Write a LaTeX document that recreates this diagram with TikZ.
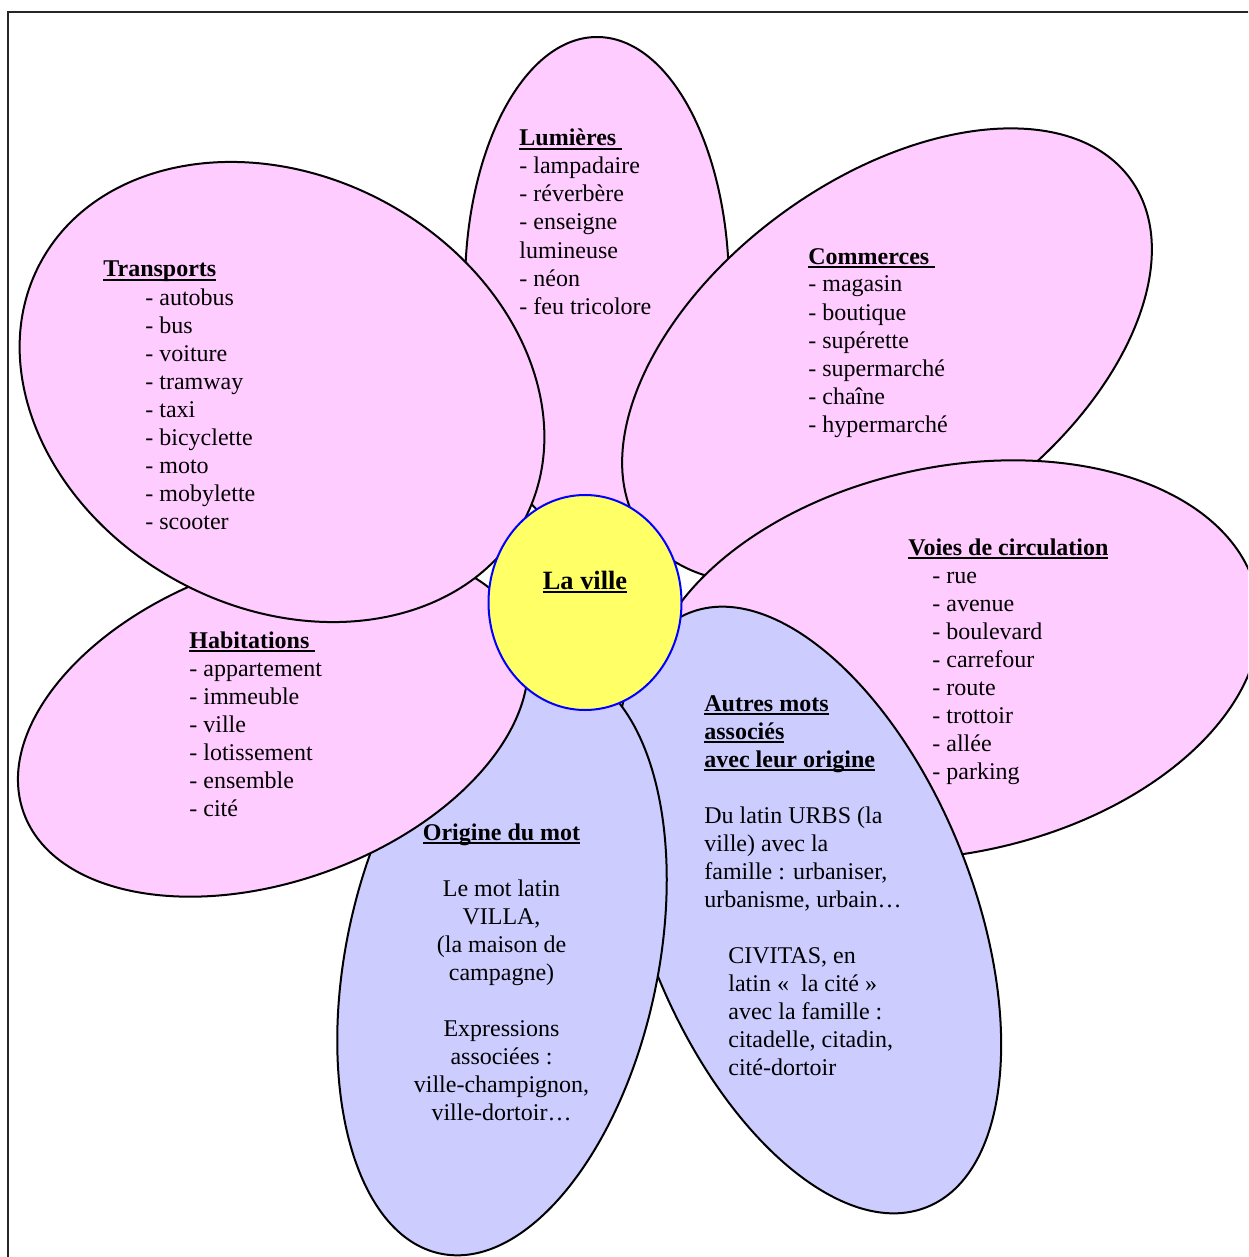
\documentclass[tikz,border=0pt]{standalone}
\usepackage{fontspec}
\setmainfont{Liberation Serif}

\definecolor{rose}{HTML}{FFCCFF}
\definecolor{lavande}{HTML}{CCCCFF}
\definecolor{jaune}{HTML}{FFFF66}

\newsavebox{\boiteSoul}
\newcommand{\souligne}[1]{\sbox{\boiteSoul}{#1}\rlap{\rule[-0.15em]{\wd\boiteSoul}{0.08em}}\usebox{\boiteSoul}}

\tikzset{
  petale/.style={draw=black, line width=1pt, fill=#1},
  ligne/.style={anchor=base west, inner sep=0pt},
  centre/.style={anchor=base, inner sep=0pt},
  titre/.style={font=\fontsize{12}{14}\selectfont\bfseries},
}

\begin{document}
\begin{tikzpicture}[x=0.5pt,y=-0.5pt,font=\fontsize{12}{14}\selectfont]
\useasboundingbox (0,0) rectangle (1248,1257);
\clip (0,0) rectangle (1248,1257);
\draw[line width=0.8pt, black!85] (8,12) rectangle (1280,1290);
% petales, du dessous vers le dessus
\draw[petale=rose] (597,287) ellipse (132 and 250);
\draw[petale=rose, rotate around={36:(887,356)}] (887,356) ellipse (301 and 177);
\draw[petale=rose, rotate around={12:(952,660)}] (952,660) ellipse (312 and 193);
\draw[petale=lavande, rotate around={-68.2:(808,910)}] (808,910) ellipse (320 and 164);
\draw[petale=lavande, rotate around={78.1:(502,960)}] (502,960) ellipse (300 and 156);
\draw[petale=rose, rotate around={19.8:(273,723)}] (273,723) ellipse (265 and 158);
\draw[petale=rose, rotate around={-28:(282,392)}] (282,392) ellipse (274 and 216);
\draw[line width=1pt, blue, fill=jaune] (585,602.5) ellipse (96.5 and 107.5);
\node[centre, font=\fontsize{13.2}{16}\selectfont\bfseries] (ville) at (585,589) {\souligne{La ville}};
% Lumieres
\node[ligne, titre] (lumT) at (519,146) {\souligne{Lumières\ }};
\node[ligne] (lum1) at (519,174) {- lampadaire};
\node[ligne] (lum2) at (519,202) {- réverbère};
\node[ligne] (lum3) at (519,230) {- enseigne};
\node[ligne] (lum4) at (519,258) {lumineuse};
\node[ligne] (lum5) at (519,286) {- néon};
\node[ligne] (lum6) at (519,314) {- feu tricolore};
% Transports
\node[ligne, titre] (traT) at (103,277) {\souligne{Transports}};
\node[ligne] (tra1) at (145,305) {- autobus};
\node[ligne] (tra2) at (145,333) {- bus};
\node[ligne] (tra3) at (145,361) {- voiture};
\node[ligne] (tra4) at (145,389) {- tramway};
\node[ligne] (tra5) at (145,417) {- taxi};
\node[ligne] (tra6) at (145,445) {- bicyclette};
\node[ligne] (tra7) at (145,473) {- moto};
\node[ligne] (tra8) at (145,501) {- mobylette};
\node[ligne] (tra9) at (145,529) {- scooter};
% Commerces
\node[ligne, titre] (comT) at (808,264) {\souligne{Commerces\ }};
\node[ligne] (com1) at (808,292) {- magasin};
\node[ligne] (com2) at (808,320) {- boutique};
\node[ligne] (com3) at (808,348) {- supérette};
\node[ligne] (com4) at (808,376) {- supermarché};
\node[ligne] (com5) at (808,404) {- chaîne};
\node[ligne] (com6) at (808,432) {- hypermarché};
% Voies de circulation
\node[ligne, titre] (voiT) at (908,555) {\souligne{Voies de circulation}};
\node[ligne] (voi1) at (932,583) {- rue};
\node[ligne] (voi2) at (932,611) {- avenue};
\node[ligne] (voi3) at (932,639) {- boulevard};
\node[ligne] (voi4) at (932,667) {- carrefour};
\node[ligne] (voi5) at (932,695) {- route};
\node[ligne] (voi6) at (932,723) {- trottoir};
\node[ligne] (voi7) at (932,751) {- allée};
\node[ligne] (voi8) at (932,779) {- parking};
% Habitations
\node[ligne, titre] (habT) at (189,648) {\souligne{Habitations\ }};
\node[ligne] (hab1) at (189,676) {- appartement};
\node[ligne] (hab2) at (189,704) {- immeuble};
\node[ligne] (hab3) at (189,732) {- ville};
\node[ligne] (hab4) at (189,760) {- lotissement};
\node[ligne] (hab5) at (189,788) {- ensemble};
\node[ligne] (hab6) at (189,816) {- cité};
% Autres mots associes
\node[ligne, titre] (autT1) at (704,711) {\souligne{Autres mots}};
\node[ligne, titre] (autT2) at (704,739) {\souligne{associés}};
\node[ligne, titre] (autT3) at (704,767) {\souligne{avec leur origine}};
\node[ligne] (aut1) at (704,823) {Du latin URBS (la};
\node[ligne] (aut2) at (704,851) {ville) avec la};
\node[ligne] (aut3) at (704,879) {famille : urbaniser,};
\node[ligne] (aut4) at (704,907) {urbanisme, urbain…};
\node[ligne] (aut5) at (728,963) {CIVITAS, en};
\node[ligne] (aut6) at (728,991) {latin «~ la cité »};
\node[ligne] (aut7) at (728,1019) {avec la famille :};
\node[ligne] (aut8) at (728,1047) {citadelle, citadin,};
\node[ligne] (aut9) at (728,1075) {cité-dortoir};
% Origine du mot
\node[centre, titre] (oriT) at (501.5,840) {\souligne{Origine du mot}};
\node[centre] (ori1) at (501.5,896) {Le mot latin};
\node[centre] (ori2) at (501.5,924) {VILLA,};
\node[centre] (ori3) at (501.5,952) {(la maison de};
\node[centre] (ori4) at (501.5,980) {campagne)};
\node[centre] (ori5) at (501.5,1036) {Expressions};
\node[centre] (ori6) at (501.5,1064) {associées :};
\node[centre] (ori7) at (501.5,1092) {ville-champignon,};
\node[centre] (ori8) at (501.5,1120) {ville-dortoir…};
\end{tikzpicture}
\end{document}
